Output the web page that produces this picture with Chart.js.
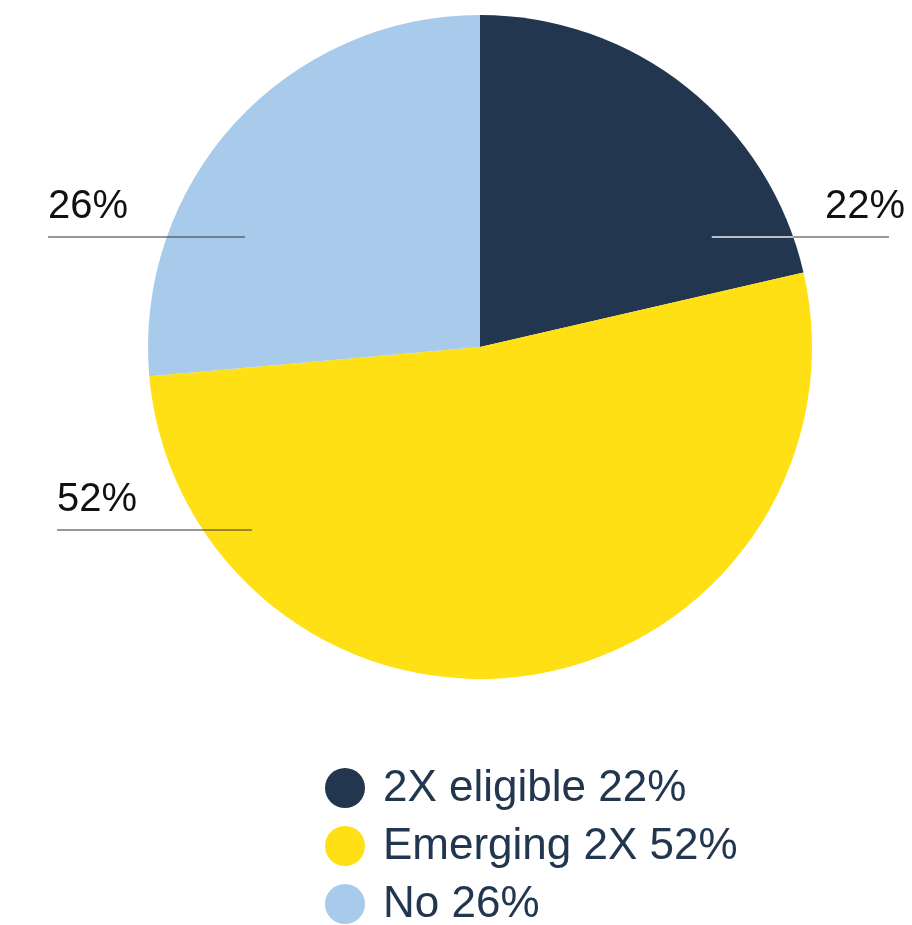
<!DOCTYPE html>
<html>
<head>
<meta charset="utf-8">
<script src="https://cdn.jsdelivr.net/npm/chart.js@4"></script>
<style>
  html, body { margin: 0; padding: 0; background: #ffffff; }
  #wrap { width: 912px; height: 925px; position: relative; }
</style>
</head>
<body>
<div id="wrap"><canvas id="pieChart" width="912" height="925"></canvas></div>
<script>
// Data
const categories = ['2X eligible', 'Emerging 2X', 'No'];
const shareLabels = [22, 52, 26];          // percentages as printed
const sliceValues = [21.4, 52.2, 26.4];    // slice sizes as drawn in the picture
const sliceColors = ['#22374f', '#ffe014', '#a8cbec'];

// label callouts: dx/dy relative to pie centre, in units of radius
const callouts = [
    { idx: 0, x1: 0.698, x2: 1.232, y: -0.331, align: 'right', textX: 1.28 },
    { idx: 1, x1: -1.274, x2: -0.687, y: 0.551, align: 'left', textX: -1.274 },
    { idx: 2, x1: -1.301, x2: -0.708, y: -0.331, align: 'left', textX: -1.301 }
];

const calloutPlugin = {
    id: 'callouts',
    afterDatasetsDraw(chart) {
        const arc = chart.getDatasetMeta(0).data[0];
        const cx = arc.x, cy = arc.y, r = arc.outerRadius;
        const ctx = chart.ctx;
        ctx.save();
        callouts.forEach(c => {
            const y = cy + c.y * r;
            const xa = cx + c.x1 * r, xb = cx + c.x2 * r;
            ctx.lineWidth = 1.5;
            if (c.idx === 0) {
                // part over the dark slice is drawn light
                const edge = cx + Math.sqrt(r * r - (c.y * r) * (c.y * r));
                ctx.strokeStyle = 'rgba(255,255,255,0.9)';
                ctx.beginPath(); ctx.moveTo(xa, y); ctx.lineTo(edge, y); ctx.stroke();
                ctx.strokeStyle = '#777777';
                ctx.beginPath(); ctx.moveTo(edge, y); ctx.lineTo(xb, y); ctx.stroke();
            } else {
                ctx.strokeStyle = 'rgba(60,60,60,0.7)';
                ctx.beginPath(); ctx.moveTo(xa, y); ctx.lineTo(xb, y); ctx.stroke();
            }
            ctx.fillStyle = '#111111';
            ctx.font = '40px "Liberation Sans", Arial, sans-serif';
            ctx.textAlign = c.align;
            ctx.textBaseline = 'alphabetic';
            ctx.fillText(shareLabels[c.idx] + '%', cx + c.textX * r, y - 19);
        });

        // legend, stacked and left aligned below the pie
        const lx = cx - 135, ly0 = cy + r + 109, step = 58;
        categories.forEach((cat, i) => {
            const y = ly0 + i * step;
            ctx.fillStyle = sliceColors[i];
            ctx.beginPath();
            ctx.arc(lx, y, 20, 0, Math.PI * 2);
            ctx.fill();
            ctx.fillStyle = '#22374f';
            ctx.font = '44px "Liberation Sans", Arial, sans-serif';
            ctx.textAlign = 'left';
            ctx.textBaseline = 'middle';
            ctx.fillText(cat + ' ' + shareLabels[i] + '%', lx + 38, y + 1);
        });
        ctx.restore();
    }
};

const ctx = document.getElementById('pieChart').getContext('2d');
const pieChart = new Chart(ctx, {
    type: 'pie',
    data: {
        labels: categories,
        datasets: [{
            data: sliceValues,
            backgroundColor: sliceColors,
            borderWidth: 0
        }]
    },
    options: {
        responsive: false,
        animation: false,
        layout: { padding: { top: 14, bottom: 245, left: 148, right: 100 } },
        plugins: {
            legend: { display: false },
            tooltip: { enabled: false }
        }
    },
    plugins: [calloutPlugin]
});
</script>
</body>
</html>
